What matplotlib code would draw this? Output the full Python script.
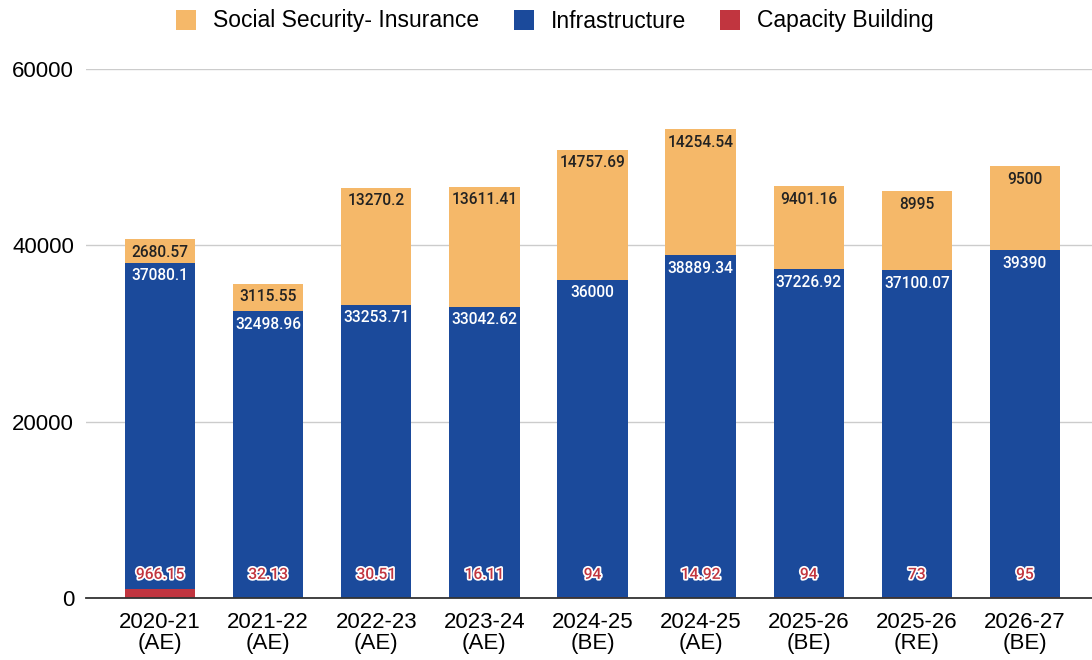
import matplotlib
matplotlib.use("Agg")
import matplotlib.pyplot as plt
import matplotlib.patheffects as pe
import numpy as np

categories = ["2020-21\n(AE)", "2021-22\n(AE)", "2022-23\n(AE)", "2023-24\n(AE)", "2024-25\n(BE)",
              "2024-25\n(AE)", "2025-26\n(BE)", "2025-26\n(RE)", "2026-27\n(BE)"]
capacity = [966.15, 32.13, 30.51, 16.11, 94, 14.92, 94, 73, 95]
infrastructure = [37080.1, 32498.96, 33253.71, 33042.62, 36000, 38889.34, 37226.92, 37100.07, 39390]
social = [2680.57, 3115.55, 13270.2, 13611.41, 14757.69, 14254.54, 9401.16, 8995, 9500]
cap_labels = ["966.15", "32.13", "30.51", "16.11", "94", "14.92", "94", "73", "95"]
inf_labels = ["37080.1", "32498.96", "33253.71", "33042.62", "36000", "38889.34", "37226.92", "37100.07", "39390"]
soc_labels = ["2680.57", "3115.55", "13270.2", "13611.41", "14757.69", "14254.54", "9401.16", "8995", "9500"]

C_SOC = "#F5B869"
C_INF = "#1B4A9B"
C_CAP = "#C1353F"

plt.rcParams["font.family"] = ["Liberation Sans", "DejaVu Sans"]

fig = plt.figure(figsize=(10.92, 6.6), dpi=100)
ax = fig.add_axes([86 / 1092, 1 - 598 / 660, 1 - 86 / 1092, (598 - 69) / 660])

x = np.arange(len(categories))
w = 0.65
cap = np.array(capacity)
inf = np.array(infrastructure)
soc = np.array(social)

ax.bar(x, cap, w, color=C_CAP, label="Capacity Building", zorder=3)
ax.bar(x, inf, w, bottom=cap, color=C_INF, label="Infrastructure", zorder=3)
ax.bar(x, soc, w, bottom=cap + inf, color=C_SOC, label="Social Security- Insurance", zorder=3)

vfont = dict(family=["Roboto", "DejaVu Sans"], fontsize=11.2, fontweight="medium",
             ha="center", va="center", zorder=5)
for i in range(len(x)):
    ax.annotate(soc_labels[i], (x[i], cap[i] + inf[i] + soc[i]), xytext=(0, -9.5),
                textcoords="offset points", color="#222222", **vfont)
    ax.annotate(inf_labels[i], (x[i], cap[i] + inf[i]), xytext=(0, -9.5),
                textcoords="offset points", color="white", **vfont)
    t = ax.annotate(cap_labels[i], (x[i], 0), xytext=(0, 17),
                    textcoords="offset points", color=C_CAP, **vfont)
    t.set_path_effects([pe.withStroke(linewidth=2.5, foreground="white")])

ax.set_xlim(-74 / 108, 8 + 67 / 108)
ax.set_ylim(0, 60000)
ax.set_yticks([0, 20000, 40000, 60000])
ax.set_yticklabels(["0", "20000", "40000", "60000"])
ax.set_xticks(x)
ax.set_xticklabels(categories, fontsize=16, linespacing=1.0)
ax.tick_params(axis="y", labelsize=16, length=0, pad=8.5)
ax.tick_params(axis="x", length=0, pad=10)
ax.grid(axis="y", color="#cccccc", linewidth=1, zorder=0)
for s in ["left", "right", "top"]:
    ax.spines[s].set_visible(False)
ax.spines["bottom"].set_color("#333333")
ax.spines["bottom"].set_linewidth(1.3)
ax.spines["bottom"].set_zorder(4)

handles, labels = ax.get_legend_handles_labels()
order = [2, 1, 0]
fig.legend([handles[i] for i in order], [labels[i] for i in order], loc="center",
           bbox_to_anchor=(0.5 + 9 / 1092, 1 - 21 / 660), ncol=3, frameon=False, fontsize=16.5,
           handlelength=0.87, handleheight=0.95, handletextpad=0.74, columnspacing=1.5)

fig.savefig("out.png", dpi=100)
